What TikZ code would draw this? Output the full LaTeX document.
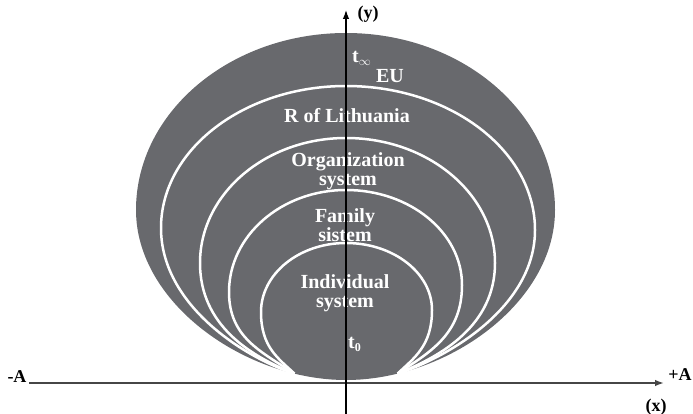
\documentclass[tikz,border=0pt]{standalone}
\usepackage{fontspec}
\setmainfont{Liberation Serif}
\usetikzlibrary{arrows.meta}
\definecolor{shapegray}{RGB}{104,105,109}
\definecolor{axisgray}{RGB}{70,70,70}
\begin{document}
\begin{tikzpicture}[x=1pt,y=-1pt,
  lbl/.style={text=white,font=\fontsize{20}{17}\selectfont\bfseries,inner sep=0pt,anchor=base},
  lbltwo/.style={lbl,align=center,anchor=north},
  axlbl/.style={text=black,font=\fontsize{18}{18}\selectfont\bfseries,inner sep=0pt,anchor=base},
  ring/.style={draw=white,line width=2.5pt},
  axisline/.style={-{Latex[length=9pt,width=6.5pt]}}]
\useasboundingbox (0,0) rectangle (693,414);
% outer shape (egg)
\fill[shapegray] (346,33)
  .. controls (230,33) and (136,112.3) .. (136,210)
  .. controls (136,303) and (245,380) .. (346,380)
  .. controls (447,380) and (555,303) .. (555,210)
  .. controls (555,112.3) and (461.4,33) .. cycle;
% rings
\draw[ring] (294.4,373.6) .. controls (244.4,357.6) and (161,305) .. (161,228)
  .. controls (161,149.6) and (243.9,86) .. (346,86)
  .. controls (450.3,86) and (535,150.5) .. (535,230)
  .. controls (535,307) and (447.6,357.6) .. (397.6,373.6);
\draw[ring] (294.4,373.6) .. controls (250,356) and (200,325) .. (200,263)
  .. controls (200,194) and (265.4,138) .. (346,138)
  .. controls (428.2,138) and (495,194) .. (495,263)
  .. controls (495,325) and (442,356) .. (397.6,373.6);
\draw[ring] (294.4,373.6) .. controls (262,352) and (229,338) .. (229,292)
  .. controls (229,235.7) and (281.4,190) .. (346,190)
  .. controls (410,190) and (462,232.6) .. (462,285)
  .. controls (462,334.5) and (430,352) .. (397.6,373.6);
\draw[ring] (294.4,373.6) .. controls (278,358) and (261,347) .. (261,312)
  .. controls (261,273.9) and (299,243) .. (346,243)
  .. controls (393.5,243) and (432,273) .. (432,310)
  .. controls (432,346) and (414,358) .. (397.6,373.6);
% labels
\node[lbl,anchor=base west] (tinf) at (352,63) {t\raisebox{-3pt}{\fontsize{12}{12}\selectfont$\infty$}};
\node[lbl] (eu) at (390,83) {EU};
\node[lbl] (lt) at (347,123) {R of Lithuania};
\node[lbltwo,font=\fontsize{20}{19}\selectfont\bfseries] (org) at (348,152.7) {Organization\\system};
\node[lbltwo,font=\fontsize{20}{16.5}\selectfont\bfseries] (fam) at (345,208.4) {Family\\sistem};
\node[lbltwo,font=\fontsize{20}{19}\selectfont\bfseries] (ind) at (345,274.4) {Individual\\system};
\node[lbl,anchor=base west] (tzero) at (348,348) {t\raisebox{-3pt}{\fontsize{12}{12}\selectfont 0}};
% axes
\coordinate (xl) at (29,383);
\coordinate (xr) at (664,383);
\coordinate (yb) at (346,414);
\coordinate (yt) at (346,10);
\draw[axisline,draw=axisgray,fill=axisgray,line width=1.6pt] (xl) -- (xr);
\draw[axisline,line width=1.2pt] (yb) -- (yt);
\node[axlbl] (ylab) at (368,19) {(y)};
\node[axlbl] (xlab) at (656,411) {(x)};
\node[axlbl] (mA) at (17,382) {-A};
\node[axlbl] (pA) at (680,380) {+A};
\end{tikzpicture}
\end{document}
